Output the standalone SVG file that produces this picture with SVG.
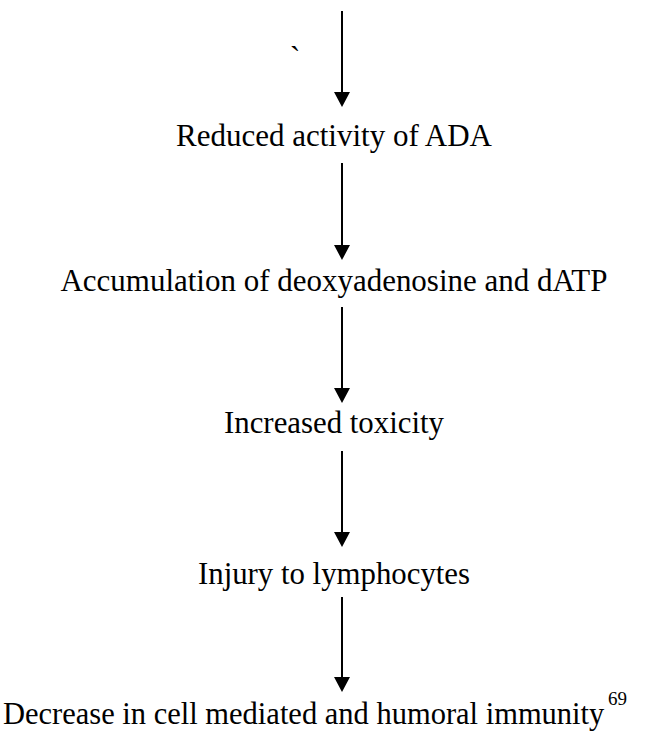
<svg xmlns="http://www.w3.org/2000/svg" width="668" height="735" viewBox="0 0 668 735">
<style>
text{font-family:"Liberation Serif","Times New Roman",serif;font-size:32px;fill:#000;text-anchor:middle}
.c line{stroke:#000;stroke-width:2}
.c path{fill:#000}
</style>
<rect width="668" height="735" fill="#fff"/>
<g id="connectors" class="c">
<line x1="342" y1="11" x2="342" y2="92"/>
<path d="M334,92 L350,92 L342,107 Z"/>
<line x1="342" y1="163" x2="342" y2="245"/>
<path d="M334,245 L350,245 L342,260 Z"/>
<line x1="342" y1="307" x2="342" y2="388"/>
<path d="M334,388 L350,388 L342,403 Z"/>
<line x1="342" y1="451" x2="342" y2="532"/>
<path d="M334,532 L350,532 L342,547 Z"/>
<line x1="342" y1="597" x2="342" y2="677"/>
<path d="M334,677 L350,677 L342,692 Z"/>
</g>
<g id="tick"><text x="295" y="68">`</text></g>
<g id="n1"><text x="334" y="146" textLength="316" lengthAdjust="spacingAndGlyphs">Reduced activity of ADA</text></g>
<g id="n2"><text x="334" y="291" textLength="547" lengthAdjust="spacingAndGlyphs">Accumulation of deoxyadenosine and dATP</text></g>
<g id="n3"><text x="334" y="433" textLength="220" lengthAdjust="spacingAndGlyphs">Increased toxicity</text></g>
<g id="n4"><text x="334" y="584" textLength="272" lengthAdjust="spacingAndGlyphs">Injury to lymphocytes</text></g>
<g id="n5"><text x="3" y="724" style="text-anchor:start;font-size:30.5px">Decrease in cell mediated and humoral immunity</text><text x="608" y="705" style="text-anchor:start;font-size:19px">69</text></g>
</svg>
